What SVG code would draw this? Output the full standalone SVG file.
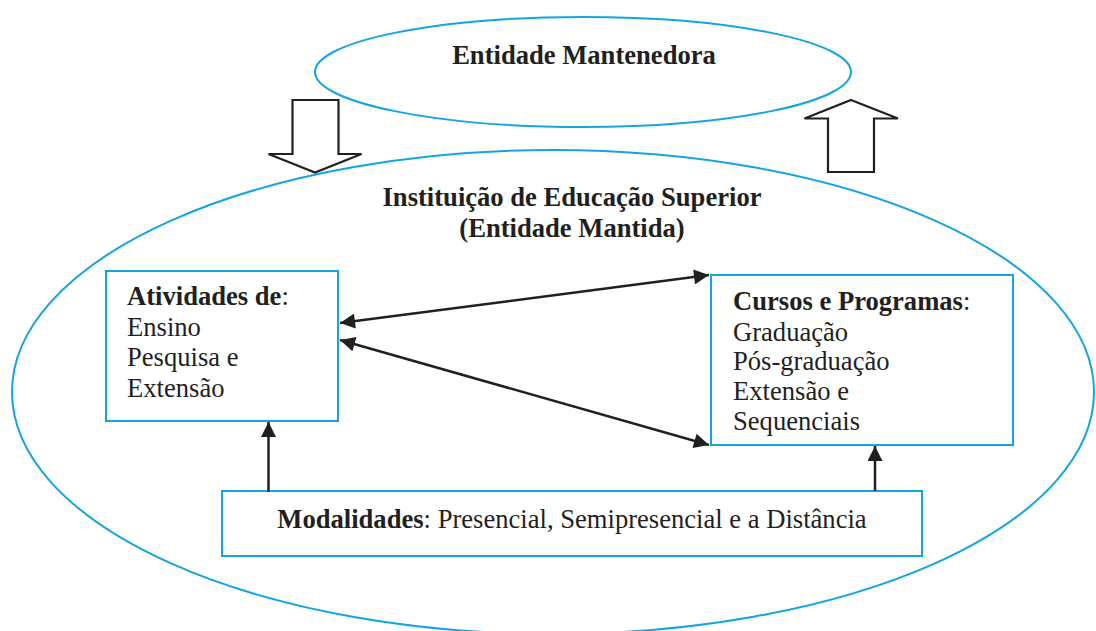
<svg xmlns="http://www.w3.org/2000/svg" width="1096" height="631" viewBox="0 0 1096 631">
<style>
.blue{fill:none;stroke:#14a4e2;stroke-width:2}
.box{fill:#fff;stroke:#14a4e2;stroke-width:2}
.blk{fill:#fff;stroke:#231f20;stroke-width:2.2;stroke-linejoin:miter}
.ln{fill:none;stroke:#231f20;stroke-width:2.5}
text{font-family:"Liberation Serif","Times New Roman",serif;font-size:26.6px;fill:#231f20}
.b{font-weight:bold}
</style>
<defs>
<marker id="ah" viewBox="0 0 10 10" refX="10" refY="5" markerWidth="7" markerHeight="6" markerUnits="strokeWidth" orient="auto-start-reverse">
<path d="M0,0 L10,5 L0,10 Z" fill="#231f20"/>
</marker>
</defs>
<g id="ies">
<ellipse class="blue" cx="553" cy="392" rx="541" ry="242"/>
<text class="b" x="572" y="206" text-anchor="middle">Instituição de Educação Superior</text>
<text class="b" x="572" y="237" text-anchor="middle">(Entidade Mantida)</text>
</g>
<g id="mantenedora">
<ellipse class="blue" cx="583" cy="72" rx="268" ry="55"/>
<text class="b" x="584" y="64" text-anchor="middle">Entidade Mantenedora</text>
</g>
<g id="arrow-down">
<path class="blk" d="M292.5,100 L338.5,100 L338.5,154 L361.5,154 L315,172.5 L268.5,154 L292.5,154 Z"/>
</g>
<g id="arrow-up">
<path class="blk" d="M851,100 L898,118.5 L874,118.5 L874,172 L828,172 L828,118.5 L804.5,118.5 Z"/>
</g>
<g id="atividades">
<rect class="box" x="106" y="271" width="232" height="150"/>
<text x="127" y="305"><tspan class="b">Atividades de</tspan>:</text>
<text x="127" y="336">Ensino</text>
<text x="127" y="366">Pesquisa e</text>
<text x="127" y="397">Extensão</text>
</g>
<g id="cursos">
<rect class="box" x="711" y="275" width="302" height="170"/>
<text x="733" y="310"><tspan class="b">Cursos e Programas</tspan>:</text>
<text x="733" y="341">Graduação</text>
<text x="733" y="370">Pós-graduação</text>
<text x="733" y="400">Extensão e</text>
<text x="733" y="430">Sequenciais</text>
</g>
<g id="modalidades">
<rect class="box" x="222" y="491" width="700" height="65"/>
<text x="572" y="528" text-anchor="middle"><tspan class="b">Modalidades</tspan>: Presencial, Semipresencial e a Distância</text>
</g>
<g id="connectors">
<line class="ln" x1="340" y1="323" x2="709" y2="275" marker-start="url(#ah)" marker-end="url(#ah)"/>
<line class="ln" x1="340" y1="340" x2="709" y2="445" marker-start="url(#ah)" marker-end="url(#ah)"/>
<line class="ln" x1="268.5" y1="492" x2="268.5" y2="422" marker-end="url(#ah)"/>
<line class="ln" x1="875" y1="491" x2="875" y2="446" marker-end="url(#ah)"/>
</g>
</svg>
